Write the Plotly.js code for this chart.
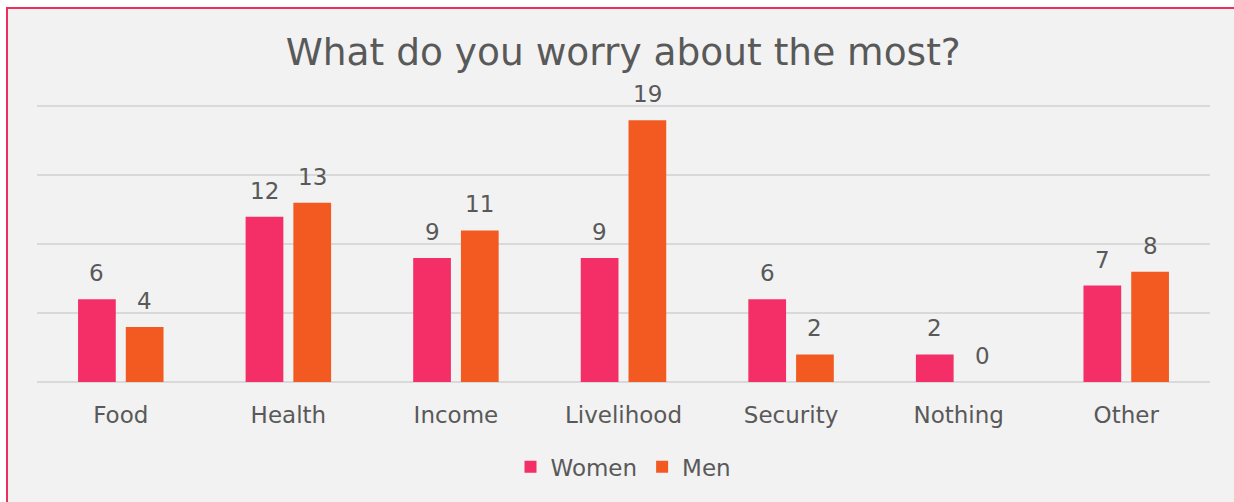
<!DOCTYPE html>
<html>
<head>
<meta charset="utf-8">
<script src="https://cdn.plot.ly/plotly-3.0.1.min.js"></script>
<style>
  html, body { margin: 0; padding: 0; background: #ffffff; width: 1234px; height: 502px; overflow: hidden; }
  #frame { position: absolute; left: 6px; top: 7px; width: 1240px; height: 510px;
           border-left: 2px solid #EE2E5E; border-top: 2px solid #EE2E5E; background: #f2f2f2; }
  #chart { position: absolute; left: 0; top: 0; width: 1228px; height: 495px; }
</style>
</head>
<body>
<div id="frame"><div id="chart"></div></div>
<script>
const categories = ["Food", "Health", "Income", "Livelihood", "Security", "Nothing", "Other"];
const women = [6, 12, 9, 9, 6, 2, 7];
const men = [4, 13, 11, 19, 2, 0, 8];
const seriesNames = ["Women", "Men"];
const seriesColors = ["#F42F68", "#F35A22"];

const textColor = "#595959";
const fontFamily = "'DejaVu Sans', Verdana, sans-serif";
const bargap = 0.43;

const traces = [women, men].map((vals, k) => ({
  type: "bar",
  name: seriesNames[k],
  x: categories,
  y: vals,
  marker: { color: seriesColors[k] },
  hoverinfo: "none"
}));

const annotations = [];
[women, men].forEach((vals, k) => {
  const off = (k === 0 ? -1 : 1) * (1 - bargap) / 4;
  vals.forEach((v, i) => {
    annotations.push({
      x: i + off, y: v, xref: "x", yref: "y",
      text: String(v), showarrow: false,
      yanchor: "bottom", yshift: 11,
      font: { size: 23, color: textColor, family: fontFamily }
    });
  });
});

const layout = {
  width: 1228, height: 495,
  paper_bgcolor: "#f2f2f2", plot_bgcolor: "#f2f2f2",
  margin: { l: 29, r: 26, t: 96, b: 122 },
  font: { family: fontFamily, color: textColor, size: 23 },
  title: {
    text: "What do you worry about the most?",
    font: { size: 37.5, color: textColor, family: fontFamily },
    x: 0.501, xref: "container", xanchor: "center",
    y: 0.913, yref: "container", yanchor: "middle"
  },
  barmode: "group",
  bargap: bargap,
  bargroupgap: 0.21,
  xaxis: {
    type: "category",
    showgrid: false, zeroline: false, showline: false, ticks: "",
    tickfont: { size: 23, color: textColor, family: fontFamily },
    ticklabelstandoff: 17
  },
  yaxis: {
    range: [0, 20.1], dtick: 5, tick0: 0,
    showticklabels: false, ticks: "",
    showgrid: true, gridcolor: "#d9d9d9", gridwidth: 2,
    zeroline: true, zerolinecolor: "#d9d9d9", zerolinewidth: 2,
    showline: false, fixedrange: true
  },
  showlegend: true,
  legend: {
    orientation: "h", x: 0.5, xanchor: "center", y: -0.306, yanchor: "middle",
    font: { size: 23, color: textColor, family: fontFamily },
    bgcolor: "rgba(0,0,0,0)", traceorder: "normal", itemclick: false
  },
  annotations: annotations
};

Plotly.newPlot("chart", traces, layout, { displayModeBar: false, staticPlot: true });
</script>
</body>
</html>
